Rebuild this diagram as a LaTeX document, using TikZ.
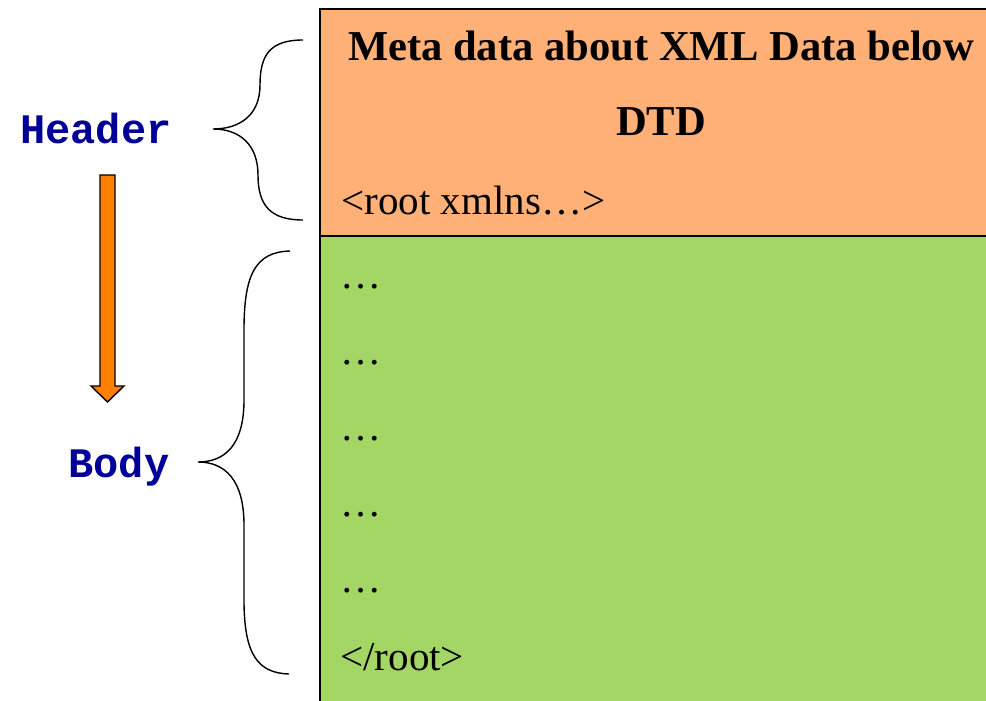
\documentclass[tikz,border=0pt]{standalone}
\usepackage{fontspec}
\setmainfont{Liberation Serif}
\newfontfamily\monofont{Liberation Mono}
\usepackage{tikz}
\usetikzlibrary{calc}

\definecolor{headfill}{HTML}{FFB077}
\definecolor{bodyfill}{HTML}{A3D664}
\definecolor{labelblue}{HTML}{000099}
\definecolor{arrowfill}{HTML}{FF8000}

\tikzset{
  part/.style={anchor=base west, inner sep=0pt, font=\fontsize{20.5}{24}\selectfont},
  title/.style={anchor=base, inner sep=0pt, font=\fontsize{21.3}{24}\selectfont\bfseries},
  side/.style={anchor=base west, inner sep=0pt, text=labelblue, font=\fontsize{21}{24}\selectfont\monofont\bfseries},
  brace/.style={line width=0.7pt}
}

\begin{document}
\begin{tikzpicture}[x=0.5pt,y=-0.5pt]
    \useasboundingbox (0,0) rectangle (986,701);
    \clip (0,0) rectangle (986,701);

    % the document
    \draw[fill=headfill, line width=0.7pt] (320,9) rectangle (1000,236);
    \draw[fill=bodyfill, line width=0.7pt] (320,236) rectangle (1000,720);

    \node[title] (meta) at (661,61) {Meta data about XML Data below};
    \node[title] (dtd) at (661,136) {DTD};
    \node[part] (root) at (341,214) {<root xmlns…>};
    \foreach \y [count=\i] in {288, 364, 440, 516, 592}
    {
      \node[part] (dots\i) at (340,\y) {…};
    }
    \node[part] (endroot) at (340,670) {</root>};

    % labels on the left
    \node[side] (header) at (20,144) {Header};
    \node[side] (body) at (68,477) {Body};

    \coordinate (htip) at (213,129);
    \coordinate (btip) at (198,462);
    \draw[brace] (303,40) .. controls (270,40) and (260,55) .. (260,85)
      .. controls (260,115) and (240,129) .. (htip)
      .. controls (240,129) and (258,145) .. (258,175)
      .. controls (258,205) and (270,220) .. (303,220);
    \draw[brace] (290,251) .. controls (255,252) and (244,275) .. (244,330)
      -- (244,400) .. controls (244,445) and (225,462) .. (btip)
      .. controls (225,462) and (244,480) .. (244,525)
      -- (244,600) .. controls (244,655) and (258,673) .. (289,674);

    % header to body
    \draw[fill=arrowfill, line width=0.7pt] (100,175) -- (115,175) -- (115,386)
      -- (124,386) -- (107.5,402) -- (91,386) -- (100,386) -- cycle;
\end{tikzpicture}
\end{document}
